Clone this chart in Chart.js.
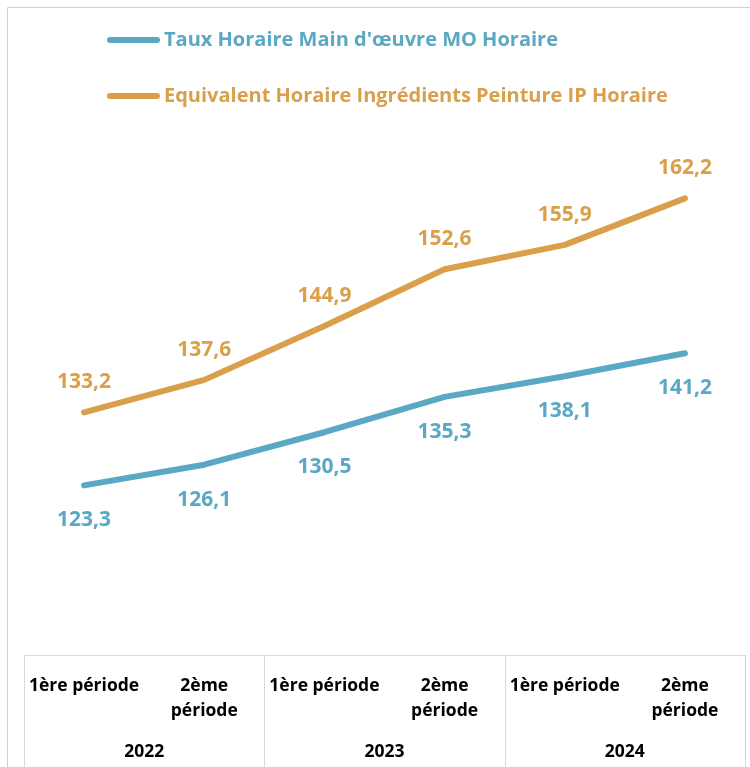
<!DOCTYPE html>
<html>
<head>
<meta charset="utf-8">
<script src="https://cdn.jsdelivr.net/npm/chart.js@4.4.1/dist/chart.umd.min.js"></script>
<style>
    html, body { margin: 0; padding: 0; background: #fff; }
    #wrap { position: relative; width: 750px; height: 767px; }
</style>
</head>
<body>
<div id="wrap"><canvas id="chart" width="750" height="767"></canvas></div>
<script>
var periods = ['1ère période', ['2ème', 'période'], '1ère période', ['2ème', 'période'], '1ère période', ['2ème', 'période']];
var years = ['2022', '2023', '2024'];
var seriesNames = ["Taux Horaire Main d'œuvre MO Horaire", 'Equivalent Horaire Ingrédients Peinture IP Horaire'];
var tauxMO = [123.3, 126.1, 130.5, 135.3, 138.1, 141.2];
var ingredientsIP = [133.2, 137.6, 144.9, 152.6, 155.9, 162.2];

var BLUE = '#5aa8c3';
var ORANGE = '#da9f4a';
var FONT = "'Open Sans', sans-serif";

// outer frame + table lines under the x axes
var framePlugin = {
    id: 'frame',
    afterDraw: function (chart) {
        var ctx = chart.ctx;
        var x = chart.scales.x;
        var bottom = chart.chartArea.bottom;
        ctx.save();
        ctx.strokeStyle = '#d0d0d0';
        ctx.lineWidth = 1;
        ctx.beginPath();
        ctx.moveTo(7.5, chart.height);
        ctx.lineTo(7.5, 7.5);
        ctx.lineTo(chart.width, 7.5);
        ctx.stroke();

        ctx.strokeStyle = '#d9d9d9';
        ctx.beginPath();
        ctx.moveTo(x.left, bottom + 0.5);
        ctx.lineTo(x.right, bottom + 0.5);
        [-0.5, 1.5, 3.5, 5.5].forEach(function (v) {
            var px = Math.round(x.getPixelForValue(v)) + 0.5;
            ctx.moveTo(px, bottom);
            ctx.lineTo(px, chart.height);
        });
        ctx.stroke();
        ctx.restore();
    }
};

var legendPlugin = {
    id: 'sideLegend',
    afterDraw: function (chart) {
        var ctx = chart.ctx;
        ctx.save();
        chart.data.datasets.forEach(function (ds, i) {
            var y = 40 + i * 56;
            ctx.strokeStyle = ds.borderColor;
            ctx.lineWidth = 6;
            ctx.lineCap = 'round';
            ctx.beginPath();
            ctx.moveTo(110, y);
            ctx.lineTo(157, y);
            ctx.stroke();
            ctx.fillStyle = ds.borderColor;
            ctx.font = 'bold 20px ' + FONT;
            ctx.textBaseline = 'middle';
            ctx.textAlign = 'left';
            ctx.fillText(ds.label, 164, y);
        });
        ctx.restore();
    }
};

var valueLabelPlugin = {
    id: 'valueLabels',
    afterDatasetsDraw: function (chart) {
        var ctx = chart.ctx;
        ctx.save();
        ctx.font = 'bold 21px ' + FONT;
        ctx.textAlign = 'center';
        ctx.textBaseline = 'middle';
        chart.data.datasets.forEach(function (ds, i) {
            var meta = chart.getDatasetMeta(i);
            var offset = i === 0 ? 35 : -30;
            ctx.fillStyle = ds.borderColor;
            meta.data.forEach(function (pt, j) {
                ctx.fillText(ds.data[j].toFixed(1).replace('.', ','), pt.x, pt.y + offset);
            });
        });
        ctx.restore();
    }
};

new Chart(document.getElementById('chart'), {
    type: 'line',
    data: {
        labels: periods,
        datasets: [
            {
                label: seriesNames[0],
                data: tauxMO,
                borderColor: BLUE,
                backgroundColor: BLUE
            },
            {
                label: seriesNames[1],
                data: ingredientsIP,
                borderColor: ORANGE,
                backgroundColor: ORANGE
            }
        ]
    },
    options: {
        responsive: false,
        devicePixelRatio: 1,
        animation: false,
        clip: false,
        elements: {
            line: { borderWidth: 6, tension: 0, borderCapStyle: 'round', borderJoinStyle: 'round' },
            point: { radius: 0, hoverRadius: 0 }
        },
        layout: { padding: { left: 24, right: 5, top: 104, bottom: 0 } },
        plugins: {
            legend: { display: false },
            tooltip: { enabled: false }
        },
        scales: {
            x: {
                type: 'category',
                offset: true,
                grid: { display: false, drawTicks: false },
                border: { display: false },
                ticks: {
                    autoSkip: false,
                    maxRotation: 0,
                    padding: 19,
                    color: '#000',
                    font: { family: FONT, size: 17.5, weight: 'bold', lineHeight: 1.42 }
                },
                afterFit: function (scale) { scale.height = 75; }
            },
            year: {
                type: 'category',
                labels: years,
                position: 'bottom',
                offset: true,
                grid: { display: false, drawTicks: false },
                border: { display: false },
                ticks: {
                    autoSkip: false,
                    maxRotation: 0,
                    padding: 12,
                    color: '#000',
                    font: { family: FONT, size: 17.5, weight: 'bold', lineHeight: 1.2 }
                },
                afterFit: function (scale) { scale.height = 37; }
            },
            y: {
                display: false,
                min: 100.3,
                max: 175
            }
        }
    },
    plugins: [framePlugin, legendPlugin, valueLabelPlugin]
});
</script>
</body>
</html>
